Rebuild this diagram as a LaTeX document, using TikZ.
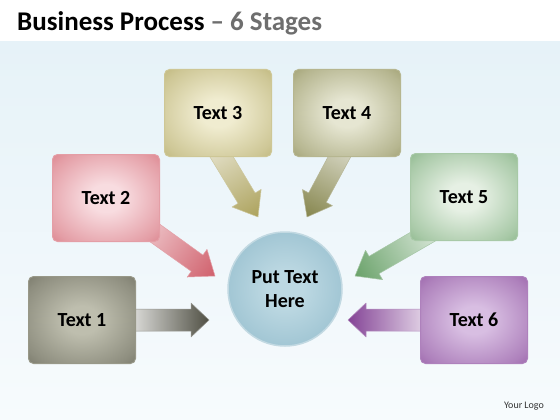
\documentclass[tikz,border=0pt]{standalone}
\usepackage{fontspec}
\setmainfont{Carlito}
\definecolor{titlegray}{HTML}{6E6E6E}
\definecolor{bgtop}{HTML}{E6F2F8}
\definecolor{bgbot}{HTML}{F7FBFD}
\definecolor{ain}{HTML}{BEBEAE}\definecolor{aout}{HTML}{5E5E50}
\definecolor{bin}{HTML}{F8DCE0}\definecolor{bout}{HTML}{D0606C}
\definecolor{cin}{HTML}{F0ECD0}\definecolor{cout}{HTML}{ACA25C}
\definecolor{din}{HTML}{E6E6D2}\definecolor{dout}{HTML}{86864E}
\definecolor{ein}{HTML}{E6F0E4}\definecolor{eout}{HTML}{6AA26A}
\definecolor{fin}{HTML}{D8BEE2}\definecolor{fout}{HTML}{844496}
\definecolor{gin}{HTML}{BCD8E2}\definecolor{gout}{HTML}{78AABE}
\newcommand\mkglow[3]{\pgfdeclareradialshading{#1}{\pgfpointorigin}{color(0bp)=(#2); color(8bp)=(#2); color(30bp)=(#3!50!#2); color(46bp)=(#3); color(75bp)=(#3)}}
\mkglow{glowa}{ain}{aout}
\mkglow{glowb}{bin}{bout}
\mkglow{glowc}{cin}{cout}
\mkglow{glowd}{din}{dout}
\mkglow{glowe}{ein}{eout}
\mkglow{glowf}{fin}{fout}
\mkglow{glowg}{gin}{gout}
% block arrow from coordinate #1 to coordinate #2
% #3 body half width, #4 head half width, #5 head length, #6 light, #7 dark
\newcommand\blockarrow[7]{%
  \pgfmathanglebetweenpoints{\pgfpointanchor{#1}{center}}{\pgfpointanchor{#2}{center}}\let\baAng\pgfmathresult
  \pgfpointdiff{\pgfpointanchor{#1}{center}}{\pgfpointanchor{#2}{center}}\pgfgetlastxy{\baX}{\baY}%
  \pgfmathveclen{\baX}{\baY}\let\baLen\pgfmathresult
  \begin{scope}[transform canvas={shift={(#1)},rotate=\baAng}]
    \shade[left color=#6,right color=#7,draw=#7!60!white,line width=0.5pt,line join=round]
      (0pt,-#3pt) -- ({\baLen pt-#5pt},-#3pt) -- ({\baLen pt-#5pt},-#4pt) -- (\baLen pt,0pt)
      -- ({\baLen pt-#5pt},#4pt) -- ({\baLen pt-#5pt},#3pt) -- (0pt,#3pt) -- cycle;
  \end{scope}}
\begin{document}
\begin{tikzpicture}[x=1pt,y=-1pt,
  stagebox/.style={rounded corners=5pt,minimum width=107pt,minimum height=87pt,
    line width=1pt,font=\bfseries\fontsize{20}{24}\selectfont,text=black,inner sep=0pt},
  hub/.style={circle,minimum size=114pt,line width=1.5pt,
    font=\bfseries\fontsize{20}{24}\selectfont,align=center,inner sep=0pt}]
\useasboundingbox (0,0) rectangle (560,420);
\fill[white] (0,0) rectangle (560,420);
\shade[top color=bgtop,bottom color=bgbot] (0,42) rectangle (560,420);

\node[anchor=base west,inner sep=0pt,font=\bfseries\fontsize{27}{30}\selectfont] (title) at (17,31)
  {Business Process \textcolor{titlegray}{– 6 Stages}};

% arrow coordinates
\coordinate (a1s) at (120,320); \coordinate (a1t) at (209,320);
\coordinate (a2s) at (106,198); \coordinate (a2t) at (215,276);
\coordinate (a3s) at (195,113); \coordinate (a3t) at (258,217);
\coordinate (a4s) at (363,113); \coordinate (a4t) at (307,217);
\coordinate (a5s) at (462,214); \coordinate (a5t) at (355,276);
\coordinate (a6s) at (440,320); \coordinate (a6t) at (348,320);

\blockarrow{a1s}{a1t}{11}{17}{18}{aout!8!white}{aout!85!black}
\blockarrow{a2s}{a2t}{10}{17}{22}{white}{bout}
\blockarrow{a3s}{a3t}{10}{17}{22}{white}{cout}
\blockarrow{a4s}{a4t}{10}{17}{22}{white}{dout}
\blockarrow{a5s}{a5t}{10}{17}{22}{white}{eout}
\blockarrow{a6s}{a6t}{11}{17}{18}{fout!8!white}{fout}

\node[stagebox,shading=glowa,draw=ain!60!aout] (t1) at (82,320) {Text 1};
\node[stagebox,shading=glowb,draw=bin!50!bout] (t2) at (106,198) {Text 2};
\node[stagebox,shading=glowc,draw=cin!50!cout] (t3) at (218,113) {Text 3};
\node[stagebox,shading=glowd,draw=din!50!dout] (t4) at (347,113) {Text 4};
\node[stagebox,shading=glowe,draw=ein!50!eout] (t5) at (464,197) {Text 5};
\node[stagebox,shading=glowf,draw=fin!50!fout] (t6) at (474,320) {Text 6};

\node[hub,shading=glowg,draw=white!55!gout] (hub) at (285,289) {Put Text\\Here};

\node[anchor=center,inner sep=0pt,font=\fontsize{10}{12}\selectfont,text=black!80] (logo) at (524,406) {Your Logo};
\end{tikzpicture}
\end{document}
